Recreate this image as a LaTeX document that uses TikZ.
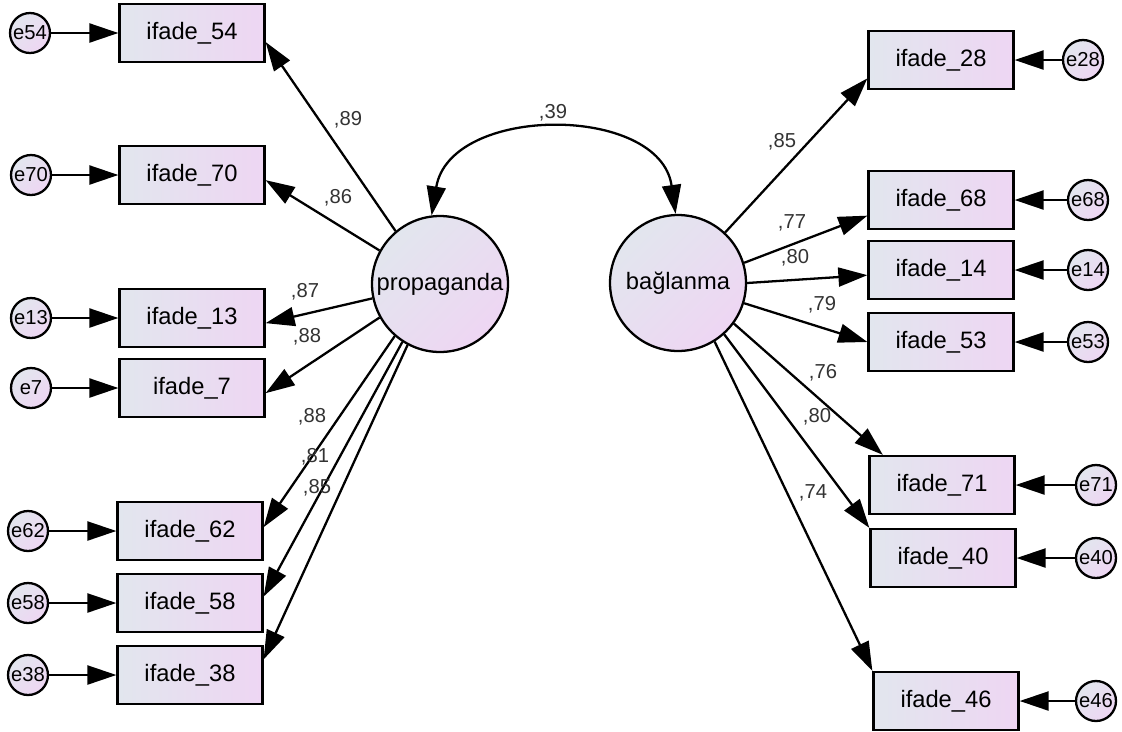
\documentclass[tikz,border=0pt]{standalone}
\usepackage{fontspec}
\setmainfont{Liberation Sans}
\usetikzlibrary{arrows.meta}
\tikzset{>={Triangle[length=0.58cm, width=0.38cm]}}
\definecolor{color1}{RGB}{226,230,238}
\definecolor{color2}{RGB}{238,214,243}
\definecolor{color3}{RGB}{51,51,51}
\def\linethickness{1.3pt}
\tikzset{
    item/.style={draw, line width=\linethickness, left color=color1, right color=color2,
        minimum width=2.9cm, minimum height=1.16cm, inner sep=0pt, font=\fontsize{13.5}{15}\selectfont},
    latent/.style={draw, circle, line width=\linethickness, left color=color1, right color=color2,
        shading angle=45, minimum size=2.72cm, inner sep=0pt, font=\fontsize{13.5}{15}\selectfont},
    error/.style={draw, circle, line width=\linethickness, left color=color1, right color=color2,
        shading angle=45, minimum size=0.8cm, inner sep=0pt, font=\fontsize{11.5}{12}\selectfont},
    coef/.style={text=color3, inner sep=0pt, font=\fontsize{11.5}{12}\selectfont},
    path/.style={->, line width=\linethickness}
}

\begin{document}
\begin{tikzpicture}[x=0.02cm, y=-0.02cm]
    \useasboundingbox (0,0) rectangle (1122,731);
    % factors
    \node[latent] (prop) at (440,284) {propaganda};
    \node[latent] (bag) at (678,283) {bağlanma};
    % left indicators and their errors
    \node[item] (i54) at (192,33) {ifade\_54};
    \node[item] (i70) at (192,175) {ifade\_70};
    \node[item] (i13) at (192,318) {ifade\_13};
    \node[item] (i7) at (192,388) {ifade\_7};
    \node[item] (i62) at (190,531) {ifade\_62};
    \node[item] (i58) at (190,603) {ifade\_58};
    \node[item] (i38) at (190,675) {ifade\_38};
    \node[error] (e54) at (30,33) {e54};
    \node[error] (e70) at (31,175) {e70};
    \node[error] (e13) at (31,318) {e13};
    \node[error] (e7) at (31,388) {e7};
    \node[error] (e62) at (28,531) {e62};
    \node[error] (e58) at (28,603) {e58};
    \node[error] (e38) at (28,675) {e38};
    % right indicators and their errors
    \node[item] (i28) at (941,60) {ifade\_28};
    \node[item] (i68) at (941,200) {ifade\_68};
    \node[item] (i14) at (941,270) {ifade\_14};
    \node[item] (i53) at (941,342) {ifade\_53};
    \node[item] (i71) at (942,485) {ifade\_71};
    \node[item] (i40) at (943,558) {ifade\_40};
    \node[item] (i46) at (946,701) {ifade\_46};
    \node[error] (e28) at (1083,60) {e28};
    \node[error] (e68) at (1088,200) {e68};
    \node[error] (e14) at (1088,270) {e14};
    \node[error] (e53) at (1088,342) {e53};
    \node[error] (e71) at (1096,485) {e71};
    \node[error] (e40) at (1096,558) {e40};
    \node[error] (e46) at (1096,701) {e46};

    % loadings
    \draw[path] (prop.130) -- (i54.-7);
    \draw[path] (prop.151) -- (i70.-4);
    \draw[path] (prop.192) -- (i13.-4);
    \draw[path] (prop.209) -- (i7.-4);
    \draw[path] (prop.229) -- (i62.3);
    \draw[path] (prop.237) -- (i58.5);
    \draw[path] (prop.242) -- (i38.12);
    \draw[path] (bag.47) -- (i28.194);
    \draw[path] (bag.17) -- (i68.192);
    \draw[path] (bag.0) -- (i14.184);
    \draw[path] (bag.-17) -- (i53.180);
    \draw[path] (bag.-36) -- (i71.153);
    \draw[path] (bag.-48) -- (i40.north west);
    \draw[path] (bag.-58) -- (i46.north west);

    % errors
    \draw[path] (e54) -- (i54);
    \draw[path] (e70) -- (i70);
    \draw[path] (e13) -- (i13);
    \draw[path] (e7) -- (i7);
    \draw[path] (e62) -- (i62);
    \draw[path] (e58) -- (i58);
    \draw[path] (e38) -- (i38);
    \draw[path] (e28) -- (i28);
    \draw[path] (e68) -- (i68);
    \draw[path] (e14) -- (i14);
    \draw[path] (e53) -- (i53);
    \draw[path] (e71) -- (i71);
    \draw[path] (e40) -- (i40);
    \draw[path] (e46) -- (i46);

    % correlation
    \draw[<->, line width=\linethickness] (prop.97) .. controls (450,104) and (660,104) .. (bag.92);
    \node[coef] (c39) at (553,113) {,39};

    \node[coef] (c54) at (348,120) {,89};
    \node[coef] (c70) at (338,198) {,86};
    \node[coef] (c13) at (305,292) {,87};
    \node[coef] (c7) at (307,337) {,88};
    \node[coef] (c62) at (312,417) {,88};
    \node[coef] (c58) at (315,457) {,81};
    \node[coef] (c38) at (317,488) {,85};
    \node[coef] (c28) at (782,142) {,85};
    \node[coef] (c68) at (792,223) {,77};
    \node[coef] (c14) at (795,258) {,80};
    \node[coef] (c53) at (822,305) {,79};
    \node[coef] (c71) at (823,373) {,76};
    \node[coef] (c40) at (817,417) {,80};
    \node[coef] (c46) at (813,493) {,74};
\end{tikzpicture}
\end{document}
